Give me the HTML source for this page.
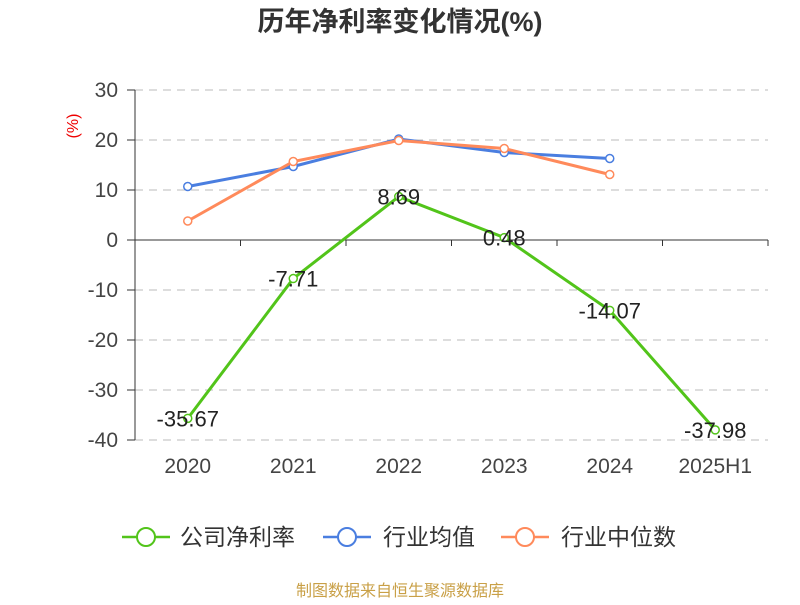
<!DOCTYPE html>
<html><head><meta charset="utf-8"><style>
body{margin:0;background:#fff;}
svg text{font-family:"Liberation Sans","Noto Sans CJK SC",sans-serif;}
</style></head><body>
<svg id="chart" width="800" height="600" xmlns="http://www.w3.org/2000/svg">
<text x="400" y="31" text-anchor="middle" font-size="27" font-weight="bold" fill="#333">历年净利率变化情况(%)</text>
<text transform="translate(78,126) rotate(-90)" text-anchor="middle" font-size="16" fill="#e00">(%)</text>
<g id="grid"></g><g id="axes"></g><g id="series"></g>
<g>
<g><line x1="122" y1="537" x2="170" y2="537" stroke="#52c41a" stroke-width="2.5"/><circle cx="146" cy="537" r="9" fill="#fff" stroke="#52c41a" stroke-width="2"/><text x="180" y="545" font-size="23" fill="#333">公司净利率</text></g>
<g><line x1="323" y1="537" x2="371" y2="537" stroke="#4a7ee0" stroke-width="2.5"/><circle cx="347" cy="537" r="9" fill="#fff" stroke="#4a7ee0" stroke-width="2"/><text x="383" y="545" font-size="23" fill="#333">行业均值</text></g>
<g><line x1="501" y1="537" x2="549" y2="537" stroke="#ff8a5b" stroke-width="2.5"/><circle cx="525" cy="537" r="9" fill="#fff" stroke="#ff8a5b" stroke-width="2"/><text x="561" y="545" font-size="23" fill="#333">行业中位数</text></g>
</g>
<text x="400" y="596" text-anchor="middle" font-size="16" fill="#c9a047">制图数据来自恒生聚源数据库</text>
</svg>
<script>
const categories=["2020","2021","2022","2023","2024","2025H1"];
const company=[-35.67,-7.71,8.69,0.48,-14.07,-37.98];
const companyLabels=["-35.67","-7.71","8.69","0.48","-14.07","-37.98"];
const industryAvg=[10.7,14.7,20.2,17.5,16.3];
const industryMedian=[3.8,15.7,19.9,18.3,13.1];
const yTicks=[30,20,10,0,-10,-20,-30,-40];
const NS="http://www.w3.org/2000/svg";
const L=135,R=768,T=90,B=440,yMax=30,yMin=-40;
const bw=(R-L)/categories.length;
const x=i=>L+bw*(i+0.5);
const y=v=>T+(yMax-v)/(yMax-yMin)*(B-T);
function mk(tag,attrs,parent){const e=document.createElementNS(NS,tag);for(const k in attrs)e.setAttribute(k,attrs[k]);parent.appendChild(e);return e;}
const grid=document.getElementById('grid'),axes=document.getElementById('axes'),ser=document.getElementById('series');
yTicks.forEach(t=>{
 if(t!==0){const g=mk('line',{x1:L,x2:R,y1:y(t),y2:y(t),stroke:'#bbb','stroke-dasharray':'8,6'},grid);
 
 }
 const tx=mk('text',{x:L-17,y:y(t)+7,'text-anchor':'end','font-size':21,fill:'#444'},axes);tx.textContent=t;
 
 
 mk('line',{x1:L-8,x2:L,y1:y(t),y2:y(t),stroke:'#333'},axes);
});
const ya=mk('line',{x1:L,x2:L,y1:T,y2:B,stroke:'#333'},axes);


const xa=mk('line',{x1:L,x2:R,y1:y(0),y2:y(0),stroke:'#333'},axes);


for(let i=0;i<=categories.length;i++)mk('line',{x1:L+bw*i,x2:L+bw*i,y1:y(0),y2:y(0)+6,stroke:'#333'},axes);
categories.forEach((c,i)=>{const t=mk('text',{x:x(i),y:473,'text-anchor':'middle','font-size':21,fill:'#444'},axes);t.textContent=c;
 
 });
function line(vals,color,name){
 const p=mk('polyline',{points:vals.map((v,i)=>x(i)+','+y(v)).join(' '),fill:'none',stroke:color,'stroke-width':3},ser);
 
 
 vals.forEach((v,i)=>{const c=mk('circle',{cx:x(i),cy:y(v),r:4,fill:'#fff',stroke:color,'stroke-width':1.5},ser);
 
 });
}
line(industryAvg,'#4a7ee0','industry-avg');
line(industryMedian,'#ff8a5b','industry-median');
line(company,'#52c41a','company');
company.forEach((v,i)=>{const t=mk('text',{x:x(i),y:y(v)+8,'text-anchor':'middle','font-size':22,fill:'#222'},ser);t.textContent=companyLabels[i];
 
 });
</script>
</body></html>
